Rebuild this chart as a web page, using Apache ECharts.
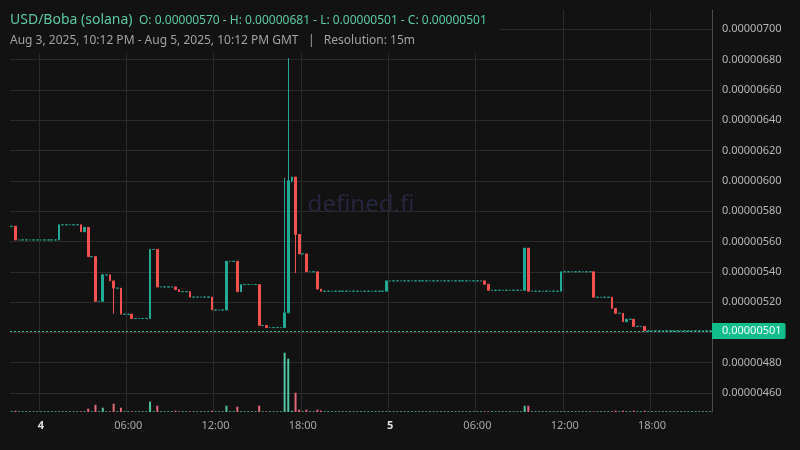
<!DOCTYPE html>
<html><head><meta charset="utf-8">
<script src="https://cdn.jsdelivr.net/npm/echarts@6/dist/echarts.min.js"></script>
<style>html,body{margin:0;padding:0;background:#121212;}#c{width:800px;height:450px;}</style>
</head><body><div id="c"></div>
<script>
// ---- data ----
const startTimeUTC = Date.UTC(2025, 7, 3, 22, 0); // first 15m bar: Aug 3 22:00 GMT
const stepMinutes = 15;
const barCount = 193;
// prices in units of 1e-8 USD; a single number = flat bar (O=C=L=H), else [open, close, low, high]
const candles = [
  570,[570,561,561,570],561,561,561,561,561,561,561,561,561,561,561,                                   // 0-12
  [561,571,561,571],571,571,571,571,571,                                                               // 13-18
  [571,566.4,566.4,571],[566.4,569.3,566.4,569.3],[569.3,550,550,569.3],550,[550,520.5,520.5,550],520.5,
  [520.5,538,520.5,538],538,[538,534,534,538],[534,529.2,512.4,534],529.2,[529.2,512,512,529.2],512,512,
  [512,509.2,509.2,512],                                                                               // 19-33
  509.2,509.2,509.2,509.2,[509.2,554.7,509.2,554.7],554.7,[554.7,530,530,554.7],530,530,530,530,
  [530,528.2,528.2,530],[528.2,526.9,526.9,528.2],526.9,526.9,[526.9,523.3,523.3,526.9],              // 34-49
  523.3,523.3,523.3,523.3,523.3,[523.3,514.8,514.8,523.3],514.8,514.8,514.8,[514.8,546.9,514.8,546.9],
  546.9,546.9,[546.9,526.9,526.9,546.9],[526.9,531.6,526.9,531.6],531.6,531.6,531.6,531.6,
  [531.6,504.6,504.6,531.6],504.6,[504.6,503.2,503.2,504.6],503.2,503.2,503.2,503.2,                  // 50-74
  [503.2,512.9,503.2,601.8],[512.9,600,512.9,681],[600,602.5,599,602.5],[602.5,564.6,539.2,602.5],
  [564.6,551.8,551.8,564.6],551.8,[551.8,540,540,551.8],540,540,[540,528.6,528.6,540],
  [528.6,527.2,527.2,528.6],                                                                           // 75-85
  527.2,527.2,527.2,527.2,527.2,527.2,527.2,527.2,527.2,527.2,527.2,527.2,527.2,527.2,527.2,527.2,527.2, // 86-102
  [527.2,534,527.2,534],534,534,534,534,534,534,534,534,534,534,534,534,534,534,534,534,534,534,534,534,
  534,534,534,534,534,534,                                                                             // 103-129
  [534,531.8,531.8,534],[531.8,527.8,527.8,531.8],527.8,527.8,527.8,527.8,527.8,527.8,527.8,527.8,527.8,
  [527.8,555.6,527.8,555.6],[555.6,527.2,527.2,555.6],527.2,527.2,527.2,527.2,527.2,527.2,527.2,527.2, // 130-150
  [527.2,540,527.2,540],540,540,540,540,540,540,540,540,[540,523.2,523.2,540],523.2,523.2,523.2,523.2,
  [523.2,515.8,515.8,523.2],[515.8,512.6,512.6,515.8],512.6,[512.6,507,507,512.6],[507,508.7,507,508.7],
  508.7,[508.7,504,504,508.7],504,504,[504,501,501,504],                                              // 151-174
  501,501,501,501,501,501,501,501,501,501,501,501,501,501,501,501,501,501                              // 175-192
];
// volume (relative units)
const volumes = [
  0.7,1.3,0.7,0.7,0.7,0.7,0.7,0.7,0.7,0.7,
  0.7,0.7,0.7,0.7,0.7,0.7,0.7,0.7,0.7,0.7,
  0.7,3.3,0.7,7.3,0.7,4.3,0.7,0.7,8.3,0.7,
  4.3,0.7,0.7,0.7,0.7,0.7,0.7,0.7,10.3,0.7,
  6.3,0.7,0.7,0.7,0.7,1.3,0.7,0.7,0.7,0.7,
  0.7,0.7,0.7,0.7,0.7,1.3,0.7,0.7,0.7,6.3,
  0.7,0.7,5.3,0.7,0.7,0.7,0.7,0.7,6.3,0.7,
  0.7,0.7,0.7,0.7,0.7,59.3,53.3,1.3,19.3,2.3,
  0.7,2.3,0.7,0.7,2.3,1.3,0.7,0.7,0.7,0.7,
  0.7,0.7,0.7,0.7,0.7,0.7,0.7,0.7,0.7,0.7,
  0.7,0.7,0.7,0.7,0.7,0.7,0.7,0.7,0.7,0.7,
  0.7,0.7,0.7,0.7,0.7,0.7,0.7,0.7,0.7,0.7,
  0.7,0.7,0.7,0.7,0.7,0.7,0.7,0.7,0.7,0.7,
  0.7,0.7,0.7,0.7,0.7,0.7,0.7,0.7,0.7,0.7,
  0.7,6.3,6.3,0.7,0.7,0.7,0.7,0.7,0.7,0.7,
  0.7,0.7,0.7,0.7,0.7,0.7,0.7,0.7,0.7,0.7,
  0.7,0.7,0.7,0.7,0.7,0.7,1.3,0.7,1.3,0.7,
  0.7,1.3,0.7,0.7,1.3,0.7,0.7,0.7,0.7,0.7,
  0.7,0.7,0.7,0.7,0.7,0.7,0.7,0.7,0.7,0.7,
  0.7,0.7,0.7
];
const priceTicks = [460,480,500,520,540,560,580,600,620,640,660,680,700];
const timeTicks = ['08-04 00:00','08-04 06:00','08-04 12:00','08-04 18:00','08-05 00:00','08-05 06:00','08-05 12:00','08-05 18:00'];
const timeTickLabels = ['4','06:00','12:00','18:00','5','06:00','12:00','18:00'];
const dayTicks = ['4','5'];
const lastPrice = 501;
const titleMain = 'USD/Boba (solana)';
const titleOHLC = 'O: 0.00000570 - H: 0.00000681 - L: 0.00000501 - C: 0.00000501';
const subtitle = 'Aug 3, 2025, 10:12 PM - Aug 5, 2025, 10:12 PM GMT   |   Resolution: 15m';

// ---- build ----
const UP = '#22ab94', DOWN = '#f0524f';
const VOL_UP = '#52c4a4', VOL_DOWN = '#e2677a';
const pad = n => String(n).padStart(2, '0');
const times = [];
for (let i = 0; i < barCount; i++) {
  const d = new Date(startTimeUTC + i * stepMinutes * 60000);
  times.push(pad(d.getUTCMonth() + 1) + '-' + pad(d.getUTCDate()) + ' ' + pad(d.getUTCHours()) + ':' + pad(d.getUTCMinutes()));
}
const ohlc = candles.map(c => typeof c === 'number' ? [c, c, c, c] : c);
const volData = volumes.map((v, i) => {
  const o = ohlc[i][0], c = ohlc[i][1];
  let up = c > o ? true : c < o ? false : (i > 0 ? ohlc[i - 1][1] <= c : true);
  return { value: v, itemStyle: { color: up ? VOL_UP : VOL_DOWN } };
});
const fmtPrice = v => (v / 1e8).toFixed(8);
const FONT = '"Noto Sans", "Open Sans", sans-serif';

const chart = echarts.init(document.getElementById('c'));
chart.setOption({
  backgroundColor: '#121212',
  animation: false,
  textStyle: { fontFamily: FONT },
  grid: { left: 10, right: 88, top: 10, bottom: 38 },
  xAxis: {
    type: 'category', data: times, boundaryGap: true,
    axisLine: { show: false }, axisTick: { show: false },
    axisLabel: {
      interval: (i, v) => timeTicks.includes(v),
      formatter: v => {
        const t = timeTickLabels[timeTicks.indexOf(v)];
        return dayTicks.includes(t) ? '{day|' + t + '}' : t;
      },
      color: '#a8a8a8', fontSize: 11, margin: 8, fontFamily: FONT,
      rich: { day: { fontWeight: 'bold', color: '#e0e0e0', fontSize: 11, fontFamily: FONT } }
    },
    splitLine: { show: true, interval: (i, v) => timeTicks.includes(v), lineStyle: { color: '#2b2b2b', width: 1 } }
  },
  yAxis: [{
    type: 'value', position: 'right', min: 447.5, max: 712.7,
    axisLine: { show: true, lineStyle: { color: '#4c4c4c' } },
    axisTick: { show: false, customValues: priceTicks },
    axisLabel: { customValues: priceTicks, formatter: fmtPrice, color: '#b6b6b6', fontSize: 11, margin: 10, fontFamily: FONT },
    splitLine: { show: true, lineStyle: { color: '#2b2b2b', width: 1 } }
  }, {
    type: 'value', min: 0, max: 402, show: false
  }],
  series: [{
    type: 'bar', yAxisIndex: 1, data: volData, barWidth: 2, z: 1, silent: true
  }, {
    type: 'candlestick', data: ohlc, barWidth: 2.2, z: 3, silent: true,
    itemStyle: { color: UP, color0: DOWN, borderColor: UP, borderColor0: DOWN, borderWidth: 1 },
    markLine: {
      silent: true, symbol: ['none', 'none'], animation: false,
      data: [{ yAxis: lastPrice }],
      lineStyle: { color: '#2fbf9f', type: [2, 2], width: 1 },
      label: {
        show: true, position: 'end', distance: 0, formatter: fmtPrice(lastPrice),
        backgroundColor: '#12bd8c', color: '#f2fffa', fontSize: 11, fontFamily: FONT,
        padding: [3, 4, 2, 10], borderRadius: [0, 2, 2, 0]
      },
      emphasis: { disabled: true }
    }
  }],
  graphic: [
    { type: 'text', x: 361, y: 205, z: 0, silent: true,
      style: { text: 'defined.fi', fill: '#25253e', font: '24px ' + FONT, align: 'center', verticalAlign: 'middle', textAlign: 'center', textVerticalAlign: 'middle' } },
    { type: 'rect', x: 0, y: 0, z: 10, silent: true, shape: { x: 0, y: 0, width: 499, height: 53 }, style: { fill: '#121212' } },
    { type: 'text', x: 10, y: 20, z: 11, silent: true,
      style: { text: titleMain, fill: '#5ccaa7', font: '14px ' + FONT, verticalAlign: 'middle', textVerticalAlign: 'middle' } },
    { type: 'text', x: 139, y: 20.5, z: 11, silent: true,
      style: { text: titleOHLC, fill: '#5ccaa7', font: '12px ' + FONT, verticalAlign: 'middle', textVerticalAlign: 'middle' } },
    { type: 'text', x: 10, y: 41, z: 11, silent: true,
      style: { text: subtitle, fill: '#a2a2a2', font: '12px ' + FONT, verticalAlign: 'middle', textVerticalAlign: 'middle' } }
  ]
});
</script></body></html>
